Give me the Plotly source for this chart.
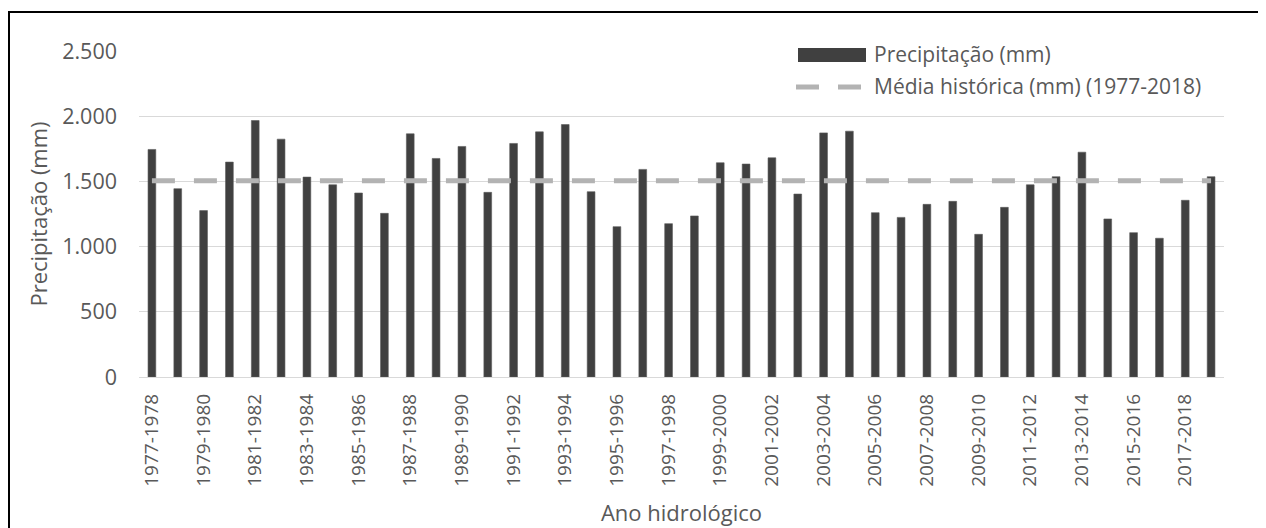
import plotly.graph_objects as go

categories = [f"{y}-{y+1}" for y in range(1977, 2019)]
precipitacao = [1745, 1444, 1276, 1648, 1967, 1824, 1533, 1474, 1411, 1255,
                1865, 1676, 1768, 1416, 1791, 1880, 1936, 1421, 1153, 1592,
                1176, 1235, 1643, 1633, 1681, 1403, 1872, 1885, 1260, 1224,
                1324, 1347, 1094, 1301, 1474, 1536, 1724, 1212, 1107, 1064,
                1355, 1536]
media_historica = [1505] * len(categories)
tick_labels = categories[::2]
y_ticks = [0, 500, 1000, 1500, 2000, 2500]
y_tick_text = ["0", "500", "1.000", "1.500", "2.000", "2.500"]

# the page body has an 8px margin, so figure coords = screen coords - 8
OFF = 8
W, H = 1266, 528
PLOT_LEFT, PLOT_RIGHT, PLOT_TOP, PLOT_BOTTOM = 139, 1224, 51, 377  # screen px
L = PLOT_LEFT - OFF
T = PLOT_TOP - OFF
R = W - (PLOT_RIGHT - OFF)
B = H - (PLOT_BOTTOM - OFF)
PW = PLOT_RIGHT - PLOT_LEFT
PH = PLOT_BOTTOM - PLOT_TOP

def px(x):
    return (x - PLOT_LEFT) / PW

def py(y):
    return (PLOT_BOTTOM - y) / PH

FONT = "Open Sans"
GREY_TXT = "#595959"
BAR_COL = "#404040"
LINE_COL = "#b3b3b3"

fig = go.Figure()
fig.add_trace(go.Bar(
    x=categories, y=precipitacao, name="Precipitação (mm)",
    marker=dict(color=BAR_COL, line=dict(color="#5a5a5a", width=0.6)),
    showlegend=False,
))
fig.add_trace(go.Scatter(
    x=categories, y=media_historica, name="Média histórica (mm) (1977-2018)",
    mode="lines", line=dict(color=LINE_COL, width=5, dash="23px,19px"),
    showlegend=False,
))

shapes = [
    # outer frame (right and bottom edges fall outside the picture)
    dict(type="rect", xref="paper", yref="paper", x0=px(9), x1=px(1300),
         y0=py(560), y1=py(12), line=dict(color="black", width=2), layer="above"),
    # legend swatches
    dict(type="rect", xref="paper", yref="paper", x0=px(798), x1=px(866),
         y0=py(62), y1=py(48), fillcolor=BAR_COL, line=dict(width=0)),
    dict(type="line", xref="paper", yref="paper", x0=px(796), x1=px(862),
         y0=py(87), y1=py(87), line=dict(color=LINE_COL, width=5, dash="23px,19px")),
]
annotations = [
    dict(text="Precipitação (mm)", xref="paper", yref="paper", x=px(872), y=py(54),
         xanchor="left", yanchor="middle", showarrow=False,
         font=dict(family=FONT, size=21, color=GREY_TXT)),
    dict(text="Média histórica (mm) (1977-2018)", xref="paper", yref="paper",
         x=px(872), y=py(86), xanchor="left", yanchor="middle", showarrow=False,
         font=dict(family=FONT, size=21, color=GREY_TXT)),
]

fig.update_layout(
    width=W, height=H,
    margin=dict(l=L, r=R, t=T, b=B, autoexpand=False),
    paper_bgcolor="white", plot_bgcolor="white",
    bargap=0.7,
    font=dict(family=FONT, color=GREY_TXT),
    shapes=shapes, annotations=annotations,
    xaxis=dict(
        type="category", tickmode="array", tickvals=tick_labels, ticktext=tick_labels,
        tickangle=-90, tickfont=dict(family=FONT, size=19, color=GREY_TXT),
        showgrid=False, showline=False, zeroline=False, ticks="",
        ticklabelstandoff=12,
        title=dict(text="Ano hidrológico", font=dict(family=FONT, size=22, color=GREY_TXT),
                   standoff=19),
        automargin=False,
    ),
    yaxis=dict(
        range=[0, 2500], tickmode="array", tickvals=y_ticks, ticktext=y_tick_text,
        tickfont=dict(family=FONT, size=21.5, color=GREY_TXT),
        showgrid=True, gridcolor="#d9d9d9", gridwidth=1.3,
        zeroline=True, zerolinecolor="#d9d9d9", zerolinewidth=1.3,
        showline=False, ticks="", ticklabelstandoff=21,
        title=dict(text="Precipitação (mm)", font=dict(family=FONT, size=22, color=GREY_TXT),
                   standoff=8),
        automargin=False,
    ),
)

fig.write_html("out.html")
